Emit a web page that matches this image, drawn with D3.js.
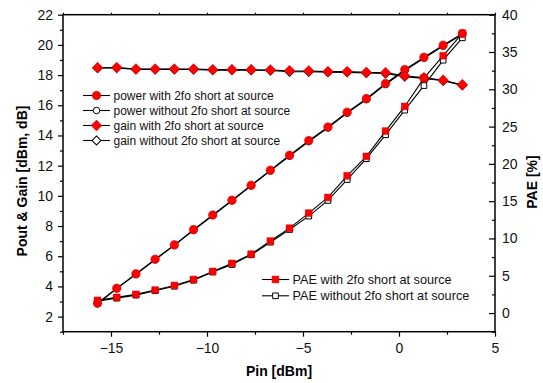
<!DOCTYPE html>
<html>
<head>
<meta charset="utf-8">
<script src="https://cdnjs.cloudflare.com/ajax/libs/d3/7.8.5/d3.min.js"></script>
<style>
  body { margin: 0; background: #fff; }
  svg { display: block; font-family: Arial, "Liberation Sans", sans-serif; }
  .tick-label { font-size: 14px; fill: #111; }
  .axis-title { font-size: 14px; font-weight: bold; fill: #000; }
  .legend-text { font-size: 12px; fill: #111; }
  .legend-text.pae { font-size: 12.7px; }
</style>
</head>
<body>
<svg width="543" height="383"></svg>
<script>

// Data
var pin = [-15.7, -14.7, -13.7, -12.7, -11.7, -10.7, -9.7, -8.7, -7.7, -6.7,
           -5.7, -4.7, -3.7, -2.7, -1.7, -0.7, 0.3, 1.3, 2.3, 3.3];

var poutWith = [2.89, 3.88, 4.83, 5.8, 6.75, 7.76, 8.73, 9.71, 10.7, 11.7,
                12.69, 13.66, 14.56, 15.54, 16.44, 17.44, 18.36, 19.18, 19.98, 20.75];
var poutWithout = [2.85, 3.85, 4.8, 5.77, 6.72, 7.72, 8.7, 9.67, 10.66, 11.65,
                   12.63, 13.6, 14.5, 15.48, 16.38, 17.38, 18.3, 19.12, 19.92, 20.7];

var gainWith = [18.49, 18.5, 18.4, 18.4, 18.4, 18.4, 18.36, 18.36, 18.36, 18.34,
                18.29, 18.27, 18.23, 18.23, 18.18, 18.16, 17.94, 17.83, 17.66, 17.36];
var gainWithout = [18.47, 18.48, 18.38, 18.38, 18.38, 18.37, 18.33, 18.33, 18.32, 18.3,
                   18.22, 18.22, 18.19, 18.18, 18.14, 18.1, 17.9, 17.78, 17.62, 17.32];

var paeWith = [1.7, 2.1, 2.5, 3.08, 3.7, 4.5, 5.58, 6.66, 7.9, 9.65,
               11.38, 13.4, 15.5, 18.4, 21.0, 24.4, 27.7, 31.5, 34.5, 37.5];
var paeWithout = [1.6, 2.0, 2.4, 3.0, 3.6, 4.4, 5.5, 6.5, 7.8, 9.5,
                  11.2, 13.0, 15.1, 17.9, 20.7, 23.9, 27.2, 30.5, 33.9, 36.9];

var xTicks = [-15, -10, -5, 0, 5];
var leftTicks = [2, 4, 6, 8, 10, 12, 14, 16, 18, 20, 22];
var rightTicks = [0, 5, 10, 15, 20, 25, 30, 35, 40];

var topLegend = [
    {label: "power with 2fo short at source", shape: "circle", filled: true},
    {label: "power without 2fo short at source", shape: "circle", filled: false},
    {label: "gain with 2fo short at source", shape: "diamond", filled: true},
    {label: "gain without 2fo short at source", shape: "diamond", filled: false}
];
var bottomLegend = [
    {label: "PAE with 2fo short at source", shape: "square", filled: true},
    {label: "PAE without 2fo short at source", shape: "square", filled: false}
];

// Setting up the top level SVG
var svg = d3.select("svg"),
    plot = {left: 63, right: 495, top: 14.7, bottom: 331.7};

// Scales
var x = d3.scaleLinear().domain([-17.5, 5]).range([plot.left, plot.right]),
    yL = d3.scaleLinear().domain([1, 22]).range([plot.bottom, plot.top]),
    yR = d3.scaleLinear().domain([-2.5, 40]).range([plot.bottom, plot.top]);

// Axes
svg.append("g")
    .attr("transform", "translate(0," + plot.bottom + ")")
    .call(d3.axisBottom(x).tickValues(xTicks).tickSize(5).tickPadding(6).tickFormat(d3.format("d")));
svg.append("g")
    .attr("transform", "translate(0," + plot.bottom + ")")
    .call(d3.axisBottom(x).tickValues([-17.5, -12.5, -7.5, -2.5, 2.5]).tickSize(3).tickFormat(""));

svg.append("g")
    .attr("transform", "translate(0," + plot.top + ")")
    .call(d3.axisTop(x).tickValues(d3.range(-17.5, 5.1, 2.5)).tickSize(2).tickFormat(""));

svg.append("g")
    .attr("transform", "translate(" + plot.left + ",0)")
    .call(d3.axisLeft(yL).tickValues(leftTicks).tickSize(5).tickPadding(5).tickFormat(d3.format("d")));
svg.append("g")
    .attr("transform", "translate(" + plot.left + ",0)")
    .call(d3.axisLeft(yL).tickValues(d3.range(1, 22, 2)).tickSize(3).tickFormat(""));

// Right axis ticks point into the plot
svg.append("g")
    .attr("transform", "translate(" + plot.right + ",0)")
    .call(d3.axisRight(yR).tickValues(rightTicks).tickSize(-6).tickPadding(7).tickFormat(d3.format("d")));
svg.append("g")
    .attr("transform", "translate(" + plot.right + ",0)")
    .call(d3.axisRight(yR).tickValues(d3.range(-2.5, 40, 5)).tickSize(-3).tickFormat(""));

svg.selectAll(".domain").remove();
svg.selectAll(".tick line").attr("stroke", "#000").attr("stroke-width", 1.2);
svg.selectAll(".tick text").attr("class", "tick-label").attr("font-family", null).attr("font-size", null);

// Frame
svg.append("rect")
    .attr("x", plot.left).attr("y", plot.top)
    .attr("width", plot.right - plot.left).attr("height", plot.bottom - plot.top)
    .attr("fill", "none").attr("stroke", "#000").attr("stroke-width", 1.5);

// Axis titles
svg.append("text").attr("class", "axis-title")
    .attr("x", 279).attr("y", 376).attr("text-anchor", "middle")
    .text("Pin [dBm]");
svg.append("text").attr("class", "axis-title")
    .attr("transform", "translate(27,181) rotate(-90)").attr("text-anchor", "middle")
    .text("Pout & Gain [dBm, dB]");
svg.append("text").attr("class", "axis-title")
    .attr("transform", "translate(537,182) rotate(-90)").attr("text-anchor", "middle")
    .text("PAE [%]");

// Marker helpers (diamond = square turned 45 degrees)
var symbols = {
    circle: {gen: d3.symbol().type(d3.symbolCircle).size(58), rot: 0},
    square: {gen: d3.symbol().type(d3.symbolSquare).size(46), rot: 0},
    diamond: {gen: d3.symbol().type(d3.symbolSquare).size(58), rot: 45}
};
var openSymbols = {
    circle: {gen: d3.symbol().type(d3.symbolCircle).size(34), rot: 0},
    square: {gen: d3.symbol().type(d3.symbolSquare).size(32), rot: 0},
    diamond: {gen: d3.symbol().type(d3.symbolSquare).size(40), rot: 45}
};

function styleMarker(sel, filled) {
    if (filled) {
        sel.attr("fill", "#ff0000").attr("stroke", "#d00000").attr("stroke-width", 0.5);
    } else {
        sel.attr("fill", "#fff").attr("stroke", "#000").attr("stroke-width", 1);
    }
}

// Draw one series: line and markers
function drawSeries(values, yScale, shape, filled) {
    var pts = pin.map((p, i) => [p, values[i]]);
    var line = d3.line().x((d) => x(d[0])).y((d) => yScale(d[1]));

    svg.append("path")
        .datum(pts)
        .attr("d", line)
        .attr("fill", "none")
        .attr("stroke", "#000")
        .attr("stroke-width", 1.1);

    var sym = filled ? symbols[shape] : openSymbols[shape];
    svg.append("g").selectAll("path")
        .data(pts)
        .enter().append("path")
        .attr("transform", (d) => "translate(" + x(d[0]) + "," + yScale(d[1]) + ") rotate(" + sym.rot + ")")
        .attr("d", sym.gen)
        .call(styleMarker, filled);
}

// Open markers first, filled on top
drawSeries(poutWithout, yL, "circle", false);
drawSeries(gainWithout, yL, "diamond", false);
drawSeries(paeWithout, yR, "square", false);
drawSeries(poutWith, yL, "circle", true);
drawSeries(gainWith, yL, "diamond", true);
drawSeries(paeWith, yR, "square", true);

// Legends
function drawLegend(items, x0, y0, step, cls) {
    items.forEach((d, i) => {
        var cy = y0 + i * step;
        var sym = d.filled ? symbols[d.shape] : openSymbols[d.shape];
        svg.append("line")
            .attr("x1", x0).attr("x2", x0 + 27)
            .attr("y1", cy).attr("y2", cy)
            .attr("stroke", "#000").attr("stroke-width", 1.1);
        svg.append("path")
            .attr("transform", "translate(" + (x0 + 13.5) + "," + cy + ") rotate(" + sym.rot + ")")
            .attr("d", sym.gen)
            .call(styleMarker, d.filled);
        svg.append("text").attr("class", cls)
            .attr("x", x0 + 30.5).attr("y", cy + 4.3)
            .text(d.label);
    });
}

drawLegend(topLegend, 83, 95.5, 15, "legend-text");
drawLegend(bottomLegend, 262, 279.5, 16.3, "legend-text pae");

</script>
</body>
</html>
